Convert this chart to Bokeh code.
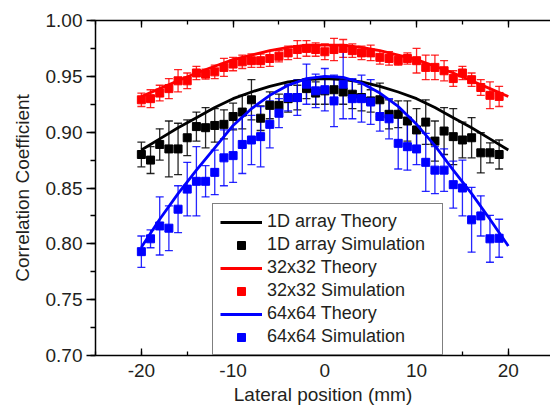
from bokeh.plotting import figure
from bokeh.models import (Range1d, LinearAxis, SingleIntervalTicker, NumeralTickFormatter,
                          CustomJSTickFormatter, ColumnDataSource, Whisker, TeeHead,
                          Legend, LegendItem)
from bokeh.embed import file_html
from bokeh.resources import INLINE

# ---------------- data ----------------
x_sim = list(range(-20, 20))

oned_sim = [0.880, 0.875, 0.889, 0.885, 0.885, 0.895, 0.905, 0.904, 0.906, 0.907,
            0.914, 0.918, 0.929, 0.9125, 0.924, 0.924, 0.930, 0.931, 0.939, 0.935,
            0.937, 0.938, 0.936, 0.934, 0.931, 0.928, 0.929, 0.916, 0.916, 0.910,
            0.902, 0.909, 0.892, 0.901, 0.896, 0.893, 0.895, 0.8815, 0.8815, 0.880]
oned_err = [0.011, 0.012, 0.014, 0.025, 0.023, 0.016, 0.013, 0.018, 0.015, 0.013,
            0.012, 0.015, 0.018, 0.011, 0.012, 0.010, 0.012, 0.011, 0.009, 0.010,
            0.012, 0.012, 0.011, 0.013, 0.012, 0.010, 0.015, 0.013, 0.012, 0.018,
            0.019, 0.020, 0.018, 0.021, 0.025, 0.016, 0.018, 0.018, 0.009, 0.013]

s32_sim = [0.929, 0.930, 0.935, 0.939, 0.946, 0.946, 0.953, 0.952, 0.954, 0.958,
           0.961, 0.963, 0.964, 0.964, 0.966, 0.968, 0.971, 0.974, 0.975, 0.974,
           0.972, 0.974, 0.975, 0.973, 0.971, 0.971, 0.967, 0.966, 0.964, 0.966,
           0.964, 0.958, 0.958, 0.955, 0.948, 0.953, 0.947, 0.940, 0.933, 0.932]
s32_err = [0.006, 0.008, 0.007, 0.009, 0.010, 0.007, 0.006, 0.0045, 0.006, 0.008,
           0.006, 0.006, 0.006, 0.006, 0.007, 0.005, 0.006, 0.008, 0.007, 0.006,
           0.007, 0.010, 0.008, 0.006, 0.006, 0.007, 0.006, 0.006, 0.004, 0.005,
           0.011, 0.011, 0.011, 0.009, 0.007, 0.006, 0.006, 0.007, 0.012, 0.009]

s64_sim = [0.793, 0.8045, 0.816, 0.814, 0.831, 0.849, 0.856, 0.856, 0.864, 0.877,
           0.879, 0.889, 0.893, 0.896, 0.907, 0.917, 0.931, 0.931, 0.943, 0.937,
           0.938, 0.928, 0.943, 0.930, 0.930, 0.927, 0.914, 0.912, 0.890, 0.887,
           0.885, 0.873, 0.866, 0.866, 0.853, 0.850, 0.8215, 0.825, 0.8045, 0.805]
s64_err = [0.014, 0.008, 0.026, 0.020, 0.021, 0.024, 0.031, 0.014, 0.020, 0.025,
           0.024, 0.026, 0.022, 0.027, 0.021, 0.013, 0.012, 0.016, 0.018, 0.015,
           0.019, 0.023, 0.031, 0.018, 0.021, 0.020, 0.013, 0.018, 0.023, 0.021,
           0.014, 0.026, 0.021, 0.019, 0.021, 0.025, 0.029, 0.018, 0.021, 0.017]

x_theory = [-20, -18, -16, -14, -12, -10, -8, -6, -4, -2, 0,
            2, 4, 6, 8, 10, 12, 14, 16, 18, 20]
oned_theory = [0.884, 0.894, 0.904, 0.913, 0.922, 0.930, 0.936, 0.941, 0.945, 0.947, 0.948,
               0.947, 0.945, 0.941, 0.936, 0.930, 0.922, 0.913, 0.904, 0.894, 0.884]
s32_theory = [0.932, 0.939, 0.946, 0.953, 0.959, 0.965, 0.969, 0.973, 0.976, 0.978, 0.978,
              0.978, 0.976, 0.973, 0.969, 0.965, 0.959, 0.953, 0.946, 0.939, 0.932]
s64_theory = [0.797, 0.822, 0.845, 0.866, 0.886, 0.906, 0.921, 0.933, 0.942, 0.948, 0.950,
              0.949, 0.944, 0.935, 0.923, 0.907, 0.888, 0.866, 0.845, 0.822, 0.798]

labels = ["1D array Theory", "1D array Simulation", "32x32 Theory",
          "32x32 Simulation", "64x64 Theory", "64x64 Simulation"]

# ---------------- figure ----------------
FONT = "Liberation Sans"
TXT = "#231f20"

p = figure(width=550, height=409, output_backend="svg", toolbar_location=None,
           x_range=Range1d(-25, 24.6), y_range=Range1d(0.70, 1.00),
           min_border_left=95, min_border_right=0, min_border_top=20, min_border_bottom=54,
           x_axis_location=None, y_axis_location=None)
p.outline_line_color = None
p.xgrid.visible = False
p.ygrid.visible = False
p.background_fill_color = "white"
p.border_fill_color = "white"

xt = SingleIntervalTicker(interval=10, num_minor_ticks=2)
yt = SingleIntervalTicker(interval=0.05, num_minor_ticks=2)

xb = LinearAxis(ticker=xt, axis_label="Lateral position (mm)",
                formatter=NumeralTickFormatter(format="0"))
xa = LinearAxis(ticker=xt, formatter=CustomJSTickFormatter(code="return ''"))
yl = LinearAxis(ticker=yt, axis_label="Correlation Coefficient",
                formatter=NumeralTickFormatter(format="0.00"))

for ax in (xb, xa, yl):
    ax.axis_line_width = 1.5
    ax.axis_line_color = "black"
    ax.major_tick_line_width = 1.3
    ax.minor_tick_line_width = 1.3
    ax.major_tick_line_color = "black"
    ax.minor_tick_line_color = "black"
    ax.major_label_text_font = FONT
    ax.major_label_text_font_size = "19px"
    ax.major_label_text_color = TXT
    ax.axis_label_text_font = FONT
    ax.axis_label_text_font_size = "19px"
    ax.axis_label_text_font_style = "normal"
    ax.axis_label_text_color = TXT

xb.major_tick_in = 7
xb.major_tick_out = 0
xb.minor_tick_in = 4
xb.minor_tick_out = 0
xb.major_label_standoff = 8
xb.axis_label_standoff = 4

xa.major_tick_in = 7
xa.major_tick_out = 0
xa.minor_tick_in = 4
xa.minor_tick_out = 0
xa.major_label_standoff = 0

yl.major_tick_in = 0
yl.major_tick_out = 9
yl.minor_tick_in = 0
yl.minor_tick_out = 5
yl.major_label_standoff = 4
yl.axis_label_standoff = 10

p.add_layout(xb, "below")
p.add_layout(xa, "above")
p.add_layout(yl, "left")

series = [
    ("black", oned_sim, oned_err, oned_theory),
    ("#ff0000", s32_sim, s32_err, s32_theory),
    ("#0000ff", s64_sim, s64_err, s64_theory),
]

items = []
for i, (col, sim, err, th) in enumerate(series):
    src = ColumnDataSource(dict(
        x=x_sim, y=sim,
        lo=[v - e for v, e in zip(sim, err)],
        up=[v + e for v, e in zip(sim, err)]))
    w = Whisker(source=src, base="x", lower="lo", upper="up",
                line_color=col, line_width=1.3, line_alpha=0.85,
                upper_head=TeeHead(size=8, line_color=col, line_width=1.3, line_alpha=0.85),
                lower_head=TeeHead(size=8, line_color=col, line_width=1.3, line_alpha=0.85))
    p.add_layout(w)
    sq = p.scatter("x", "y", source=src, marker="square", size=8,
                   fill_color=col, line_color=col)
    ln = p.line(x_theory, th, line_color=col, line_width=2.8)
    items.append(LegendItem(label=labels[2 * i], renderers=[ln]))
    items.append(LegendItem(label=labels[2 * i + 1], renderers=[sq]))

legend = Legend(items=items, location=(117, 0))
legend.label_text_font = FONT
legend.label_text_font_size = "18px"
legend.label_text_color = TXT
legend.glyph_width = 42
legend.glyph_height = 20
legend.label_height = 20
legend.label_width = 168
legend.label_standoff = 5
legend.spacing = 2
legend.padding = 7
legend.margin = 0
legend.border_line_color = "black"
legend.border_line_width = 1.3
legend.background_fill_alpha = 1.0
p.add_layout(legend, "center")

open("out.html", "w").write(file_html(p, INLINE))
